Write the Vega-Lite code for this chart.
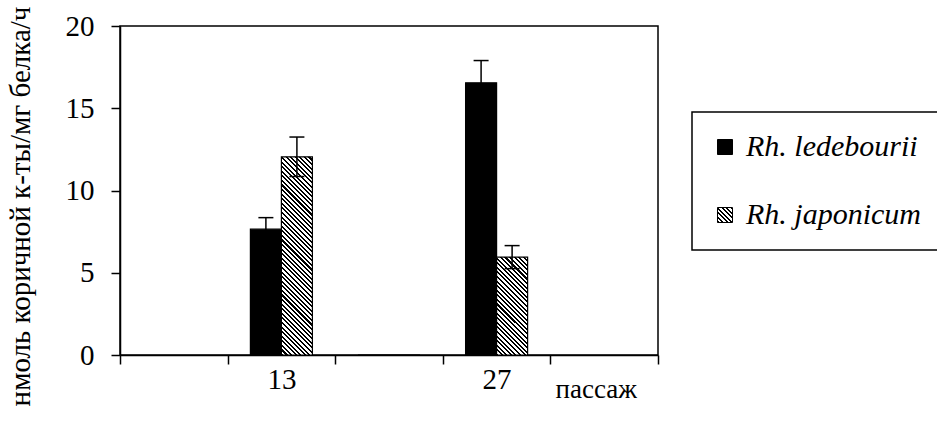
{
  "$schema": "https://vega.github.io/schema/vega-lite/v6.json",
  "width": 538,
  "height": 329,
  "autosize": {"type": "none"},
  "padding": {"left": 120, "top": 26, "right": 279, "bottom": 68},
  "background": "white",
  "params": [
    {"name": "hatch", "value": [
      {"offset":0,"color":"#000"},{"offset":0.009,"color":"#000"},{"offset":0.009,"color":"#fff"},{"offset":0.02,"color":"#fff"},
      {"offset":0.02,"color":"#000"},{"offset":0.029,"color":"#000"},{"offset":0.029,"color":"#fff"},{"offset":0.04,"color":"#fff"},
      {"offset":0.04,"color":"#000"},{"offset":0.049,"color":"#000"},{"offset":0.049,"color":"#fff"},{"offset":0.06,"color":"#fff"},
      {"offset":0.06,"color":"#000"},{"offset":0.069,"color":"#000"},{"offset":0.069,"color":"#fff"},{"offset":0.08,"color":"#fff"},
      {"offset":0.08,"color":"#000"},{"offset":0.089,"color":"#000"},{"offset":0.089,"color":"#fff"},{"offset":0.1,"color":"#fff"},
      {"offset":0.1,"color":"#000"},{"offset":0.109,"color":"#000"},{"offset":0.109,"color":"#fff"},{"offset":0.12,"color":"#fff"},
      {"offset":0.12,"color":"#000"},{"offset":0.129,"color":"#000"},{"offset":0.129,"color":"#fff"},{"offset":0.14,"color":"#fff"},
      {"offset":0.14,"color":"#000"},{"offset":0.149,"color":"#000"},{"offset":0.149,"color":"#fff"},{"offset":0.16,"color":"#fff"},
      {"offset":0.16,"color":"#000"},{"offset":0.169,"color":"#000"},{"offset":0.169,"color":"#fff"},{"offset":0.18,"color":"#fff"},
      {"offset":0.18,"color":"#000"},{"offset":0.189,"color":"#000"},{"offset":0.189,"color":"#fff"},{"offset":0.2,"color":"#fff"},
      {"offset":0.2,"color":"#000"},{"offset":0.209,"color":"#000"},{"offset":0.209,"color":"#fff"},{"offset":0.22,"color":"#fff"},
      {"offset":0.22,"color":"#000"},{"offset":0.229,"color":"#000"},{"offset":0.229,"color":"#fff"},{"offset":0.24,"color":"#fff"},
      {"offset":0.24,"color":"#000"},{"offset":0.249,"color":"#000"},{"offset":0.249,"color":"#fff"},{"offset":0.26,"color":"#fff"},
      {"offset":0.26,"color":"#000"},{"offset":0.269,"color":"#000"},{"offset":0.269,"color":"#fff"},{"offset":0.28,"color":"#fff"},
      {"offset":0.28,"color":"#000"},{"offset":0.289,"color":"#000"},{"offset":0.289,"color":"#fff"},{"offset":0.3,"color":"#fff"},
      {"offset":0.3,"color":"#000"},{"offset":0.309,"color":"#000"},{"offset":0.309,"color":"#fff"},{"offset":0.32,"color":"#fff"},
      {"offset":0.32,"color":"#000"},{"offset":0.329,"color":"#000"},{"offset":0.329,"color":"#fff"},{"offset":0.34,"color":"#fff"},
      {"offset":0.34,"color":"#000"},{"offset":0.349,"color":"#000"},{"offset":0.349,"color":"#fff"},{"offset":0.36,"color":"#fff"},
      {"offset":0.36,"color":"#000"},{"offset":0.369,"color":"#000"},{"offset":0.369,"color":"#fff"},{"offset":0.38,"color":"#fff"},
      {"offset":0.38,"color":"#000"},{"offset":0.389,"color":"#000"},{"offset":0.389,"color":"#fff"},{"offset":0.4,"color":"#fff"},
      {"offset":0.4,"color":"#000"},{"offset":0.409,"color":"#000"},{"offset":0.409,"color":"#fff"},{"offset":0.42,"color":"#fff"},
      {"offset":0.42,"color":"#000"},{"offset":0.429,"color":"#000"},{"offset":0.429,"color":"#fff"},{"offset":0.44,"color":"#fff"},
      {"offset":0.44,"color":"#000"},{"offset":0.449,"color":"#000"},{"offset":0.449,"color":"#fff"},{"offset":0.46,"color":"#fff"},
      {"offset":0.46,"color":"#000"},{"offset":0.469,"color":"#000"},{"offset":0.469,"color":"#fff"},{"offset":0.48,"color":"#fff"},
      {"offset":0.48,"color":"#000"},{"offset":0.489,"color":"#000"},{"offset":0.489,"color":"#fff"},{"offset":0.5,"color":"#fff"},
      {"offset":0.5,"color":"#000"},{"offset":0.509,"color":"#000"},{"offset":0.509,"color":"#fff"},{"offset":0.52,"color":"#fff"},
      {"offset":0.52,"color":"#000"},{"offset":0.529,"color":"#000"},{"offset":0.529,"color":"#fff"},{"offset":0.54,"color":"#fff"},
      {"offset":0.54,"color":"#000"},{"offset":0.549,"color":"#000"},{"offset":0.549,"color":"#fff"},{"offset":0.56,"color":"#fff"},
      {"offset":0.56,"color":"#000"},{"offset":0.569,"color":"#000"},{"offset":0.569,"color":"#fff"},{"offset":0.58,"color":"#fff"},
      {"offset":0.58,"color":"#000"},{"offset":0.589,"color":"#000"},{"offset":0.589,"color":"#fff"},{"offset":0.6,"color":"#fff"},
      {"offset":0.6,"color":"#000"},{"offset":0.609,"color":"#000"},{"offset":0.609,"color":"#fff"},{"offset":0.62,"color":"#fff"},
      {"offset":0.62,"color":"#000"},{"offset":0.629,"color":"#000"},{"offset":0.629,"color":"#fff"},{"offset":0.64,"color":"#fff"},
      {"offset":0.64,"color":"#000"},{"offset":0.649,"color":"#000"},{"offset":0.649,"color":"#fff"},{"offset":0.66,"color":"#fff"},
      {"offset":0.66,"color":"#000"},{"offset":0.669,"color":"#000"},{"offset":0.669,"color":"#fff"},{"offset":0.68,"color":"#fff"},
      {"offset":0.68,"color":"#000"},{"offset":0.689,"color":"#000"},{"offset":0.689,"color":"#fff"},{"offset":0.7,"color":"#fff"},
      {"offset":0.7,"color":"#000"},{"offset":0.709,"color":"#000"},{"offset":0.709,"color":"#fff"},{"offset":0.72,"color":"#fff"},
      {"offset":0.72,"color":"#000"},{"offset":0.729,"color":"#000"},{"offset":0.729,"color":"#fff"},{"offset":0.74,"color":"#fff"},
      {"offset":0.74,"color":"#000"},{"offset":0.749,"color":"#000"},{"offset":0.749,"color":"#fff"},{"offset":0.76,"color":"#fff"},
      {"offset":0.76,"color":"#000"},{"offset":0.769,"color":"#000"},{"offset":0.769,"color":"#fff"},{"offset":0.78,"color":"#fff"},
      {"offset":0.78,"color":"#000"},{"offset":0.789,"color":"#000"},{"offset":0.789,"color":"#fff"},{"offset":0.8,"color":"#fff"},
      {"offset":0.8,"color":"#000"},{"offset":0.809,"color":"#000"},{"offset":0.809,"color":"#fff"},{"offset":0.82,"color":"#fff"},
      {"offset":0.82,"color":"#000"},{"offset":0.829,"color":"#000"},{"offset":0.829,"color":"#fff"},{"offset":0.84,"color":"#fff"},
      {"offset":0.84,"color":"#000"},{"offset":0.849,"color":"#000"},{"offset":0.849,"color":"#fff"},{"offset":0.86,"color":"#fff"},
      {"offset":0.86,"color":"#000"},{"offset":0.869,"color":"#000"},{"offset":0.869,"color":"#fff"},{"offset":0.88,"color":"#fff"},
      {"offset":0.88,"color":"#000"},{"offset":0.889,"color":"#000"},{"offset":0.889,"color":"#fff"},{"offset":0.9,"color":"#fff"},
      {"offset":0.9,"color":"#000"},{"offset":0.909,"color":"#000"},{"offset":0.909,"color":"#fff"},{"offset":0.92,"color":"#fff"},
      {"offset":0.92,"color":"#000"},{"offset":0.929,"color":"#000"},{"offset":0.929,"color":"#fff"},{"offset":0.94,"color":"#fff"},
      {"offset":0.94,"color":"#000"},{"offset":0.949,"color":"#000"},{"offset":0.949,"color":"#fff"},{"offset":0.96,"color":"#fff"},
      {"offset":0.96,"color":"#000"},{"offset":0.969,"color":"#000"},{"offset":0.969,"color":"#fff"},{"offset":0.98,"color":"#fff"},
      {"offset":0.98,"color":"#000"},{"offset":0.989,"color":"#000"},{"offset":0.989,"color":"#fff"},{"offset":1,"color":"#fff"}
    ]}
  ],
  "data": {"values": [
    {"passage": "13", "species": "Rh. ledebourii", "value": 7.65, "lo": 6.95, "hi": 8.35},
    {"passage": "13", "species": "Rh. japonicum", "value": 12.05, "lo": 10.85, "hi": 13.25},
    {"passage": "p3", "species": "Rh. ledebourii", "value": 0},
    {"passage": "p3", "species": "Rh. japonicum", "value": 0},
    {"passage": "27", "species": "Rh. ledebourii", "value": 16.55, "lo": 15.2, "hi": 17.9},
    {"passage": "27", "species": "Rh. japonicum", "value": 5.95, "lo": 5.25, "hi": 6.65}
  ]},
  "config": {
    "view": {"stroke": "black", "strokeWidth": 1.5},
    "font": "Liberation Serif, Times New Roman, DejaVu Serif, serif",
    "axisX": {
      "domainColor": "black", "domainWidth": 1.5, "tickColor": "black", "tickWidth": 1.5, "tickSize": 9,
      "labelFont": "Liberation Serif, Times New Roman, DejaVu Serif, serif", "labelFontSize": 29, "labelColor": "black", "labelPadding": 1, "labelAngle": 0,
      "titleFont": "Liberation Serif, Times New Roman, DejaVu Serif, serif", "titleFontSize": 27, "titleFontWeight": "normal", "titleColor": "black",
      "titleX": 435, "titleY": 42, "titleAlign": "left", "titleBaseline": "alphabetic", "grid": false
    },
    "axisY": {
      "domainColor": "black", "domainWidth": 1.5, "tickColor": "black", "tickWidth": 1.5, "tickSize": 9, "tickCount": 5,
      "labelFont": "Liberation Serif, Times New Roman, DejaVu Serif, serif", "labelFontSize": 29, "labelColor": "black", "labelPadding": 17,
      "titleFont": "Liberation Serif, Times New Roman, DejaVu Serif, serif", "titleFontSize": 29, "titleFontWeight": "normal", "titleColor": "black",
      "titleX": -91, "titleY": 180, "titleAngle": -90, "titleAlign": "center", "titleBaseline": "alphabetic", "grid": false
    }
  },
  "encoding": {
    "x": {
      "field": "passage", "type": "nominal", "title": "пассаж",
      "scale": {"domain": ["p1", "13", "p3", "27", "p5"], "paddingInner": 0, "paddingOuter": 0},
      "axis": {"labelExpr": "datum.value == '13' || datum.value == '27' ? datum.label : ''", "tickBand": "extent"}
    },
    "xOffset": {
      "field": "species", "type": "nominal",
      "scale": {"domain": ["Rh. ledebourii", "Rh. japonicum"], "paddingOuter": 0.735, "paddingInner": 0}
    }
  },
  "layer": [
    {
      "mark": {"type": "bar", "strokeWidth": 1.2, "stroke": "black"},
      "encoding": {
        "y": {"field": "value", "type": "quantitative", "title": "нмоль коричной к-ты/мг белка/ч", "scale": {"domain": [0, 20], "nice": false}},
        "fill": {
          "field": "species", "type": "nominal",
          "condition": [
            {"test": "datum.species === 'Rh. japonicum' && datum.passage === '13'", "value": {"expr": "{gradient: 'linear', x1: 0, y1: 1, x2: 0.17646, y2: -0.1283, stops: hatch}"}},
            {"test": "datum.species === 'Rh. japonicum'", "value": {"expr": "{gradient: 'linear', x1: 0, y1: 1, x2: 0.6735, y2: -1.1269, stops: hatch}"}}
          ],
          "scale": {"domain": ["Rh. ledebourii", "Rh. japonicum"], "range": ["black", {"expr": "{gradient: 'linear', x1: 0, y1: 1, x2: 7.637, y2: -6.637, stops: hatch}"}]},
          "legend": {
            "orient": "none", "legendX": 572, "legendY": 86, "title": null, "padding": 20,
            "strokeColor": "black", "symbolType": "square", "symbolSize": 225, "symbolStrokeWidth": 1, "symbolStrokeColor": "black", "symbolOffset": -2,
            "labelFont": "Liberation Serif, Times New Roman, DejaVu Serif, serif", "labelFontSize": 30, "labelFontStyle": "italic", "labelColor": "black",
            "rowPadding": 38, "labelOffset": 6, "labelLimit": 400,
            "encode": {
              "symbols": {"update": {"opacity": {"value": 1}}},
              "legend": {"update": {"strokeWidth": {"value": 1.5}}}
            }
          }
        }
      }
    },
    {
      "mark": {"type": "rule", "color": "black", "strokeWidth": 1.5},
      "encoding": {
        "y": {"field": "lo", "type": "quantitative", "title": "нмоль коричной к-ты/мг белка/ч"},
        "y2": {"field": "hi"}
      }
    },
    {
      "mark": {"type": "tick", "color": "black", "size": 15, "thickness": 1.5, "orient": "horizontal", "opacity": 1},
      "encoding": {"y": {"field": "hi", "type": "quantitative", "title": "нмоль коричной к-ты/мг белка/ч"}}
    },
    {
      "mark": {"type": "tick", "color": "black", "size": 15, "thickness": 1.5, "orient": "horizontal", "opacity": 1},
      "encoding": {"y": {"field": "lo", "type": "quantitative", "title": "нмоль коричной к-ты/мг белка/ч"}}
    }
  ]
}
